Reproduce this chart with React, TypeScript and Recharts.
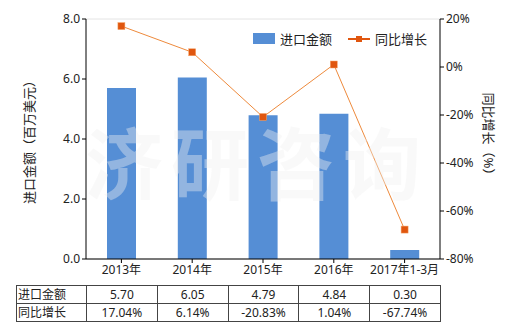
import React from 'react';
import { Bar, ComposedChart, CartesianGrid, Line, XAxis, YAxis } from 'recharts';

const categories = ['2013年', '2014年', '2015年', '2016年', '2017年1-3月'];
const importValues = [5.7, 6.05, 4.79, 4.84, 0.3];
const growthValues = [17.04, 6.14, -20.83, 1.04, -67.74];
const leftTicks = [0, 2, 4, 6, 8];
const rightTicks = [-80, -60, -40, -20, 0, 20];

const BAR_COLOR = '#558ED5';
const LINE_COLOR = '#EE8A3C';
const MARKER_COLOR = '#E0560F';
const FONT = '"Noto Sans", "Noto Sans CJK SC", sans-serif';

const data = categories.map((name, i) => ({
  name,
  amount: importValues[i],
  growth: growthValues[i],
}));

function SquareDot(props: any) {
  const { cx, cy } = props;
  if (cx == null || cy == null) return null;
  return <rect x={cx - 3.5} y={cy - 3.5} width={7} height={7} fill={MARKER_COLOR} stroke="#F6A66A" strokeWidth={0.5} />;
}

function ChartLegend() {
  return (
    <div style={{ display: 'flex', alignItems: 'center', fontSize: 13, color: '#222', fontFamily: FONT }}>
      <span style={{ width: 22, height: 11, background: BAR_COLOR, display: 'inline-block', marginRight: 5 }} />
      <span style={{ marginRight: 16 }}>进口金额</span>
      <svg width={22} height={10} style={{ marginRight: 5 }}>
        <line x1={0} y1={5} x2={22} y2={5} stroke={MARKER_COLOR} strokeWidth={2} />
        <rect x={8} y={2} width={6} height={6} fill={MARKER_COLOR} />
      </svg>
      <span>同比增长</span>
    </div>
  );
}

const cellStyle: React.CSSProperties = {
  border: '1px solid #444',
  padding: 0,
  height: 17,
  fontSize: 12,
  lineHeight: '15px',
  textAlign: 'center',
};

export default function App() {
  return (
    <div style={{ position: 'absolute', left: 0, top: 0, width: 520, height: 330, background: '#fff', fontFamily: FONT }}>
      <ComposedChart width={520} height={330} data={data} margin={{ top: 19, right: 0, bottom: 51, left: 0 }}>
        <CartesianGrid vertical={false} stroke="#e4e4e4" />
        <XAxis
          dataKey="name"
          height={20}
          tick={{ fontSize: 12, fill: '#222', fontFamily: FONT }}
          tickLine={{ stroke: '#000' }}
          axisLine={{ stroke: '#000' }}
          tickSize={4}
        />
        <YAxis
          yAxisId="left"
          width={86}
          domain={[0, 8]}
          ticks={leftTicks}
          tickFormatter={(v: number) => v.toFixed(1)}
          tick={{ fontSize: 12, fill: '#222', fontFamily: FONT }}
          tickLine={{ stroke: '#000' }}
          axisLine={{ stroke: '#000' }}
          tickSize={4}
        />
        <YAxis
          yAxisId="right"
          orientation="right"
          width={80}
          domain={[-80, 20]}
          ticks={rightTicks}
          tickFormatter={(v: number) => `${v}%`}
          tick={{ fontSize: 12, fill: '#222', fontFamily: FONT }}
          tickLine={{ stroke: '#000' }}
          axisLine={{ stroke: '#000' }}
          tickSize={4}
        />
        <Bar yAxisId="left" dataKey="amount" name="进口金额" fill={BAR_COLOR} barSize={29} isAnimationActive={false} />
        <Line
          yAxisId="right"
          dataKey="growth"
          name="同比增长"
          stroke={LINE_COLOR}
          strokeWidth={1}
          dot={<SquareDot />}
          activeDot={false}
          isAnimationActive={false}
        />
      </ComposedChart>

      <div style={{ position: 'absolute', top: 29, left: 253 }}>
        <ChartLegend />
      </div>

      <svg width={520} height={330} style={{ position: 'absolute', left: 0, top: 0, pointerEvents: 'none' }}>
        <text
          x={257}
          y={194}
          textAnchor="middle"
          fontSize={78}
          fontWeight="bold"
          fill="#f0f0f0"
          fillOpacity={0.4}
          letterSpacing={8}
          fontFamily='"Noto Sans CJK SC", sans-serif'
        >
          济研咨询
        </text>
        <text
          transform="translate(29,139) rotate(-90)"
          textAnchor="middle"
          dominantBaseline="central"
          fontSize={13}
          fill="#222"
          fontFamily={FONT}
        >
          进口金额（百万美元）
        </text>
        <text
          transform="translate(489,137) rotate(90)"
          textAnchor="middle"
          dominantBaseline="central"
          fontSize={13}
          fill="#222"
          fontFamily={FONT}
        >
          同比增长（%）
        </text>
      </svg>

      <table
        style={{
          position: 'absolute',
          left: 16,
          top: 285,
          width: 423,
          borderCollapse: 'collapse',
          tableLayout: 'fixed',
          color: '#222',
          fontFamily: FONT,
        }}
      >
        <colgroup>
          <col style={{ width: 70 }} />
          {categories.map((c) => (
            <col key={c} style={{ width: 70.8 }} />
          ))}
        </colgroup>
        <tbody>
          <tr>
            <td style={{ ...cellStyle, textAlign: 'left', paddingLeft: 1 }}>进口金额</td>
            {importValues.map((v, i) => (
              <td key={i} style={cellStyle}>{v.toFixed(2)}</td>
            ))}
          </tr>
          <tr>
            <td style={{ ...cellStyle, textAlign: 'left', paddingLeft: 1 }}>同比增长</td>
            {growthValues.map((v, i) => (
              <td key={i} style={cellStyle}>{v.toFixed(2)}%</td>
            ))}
          </tr>
        </tbody>
      </table>
    </div>
  );
}
